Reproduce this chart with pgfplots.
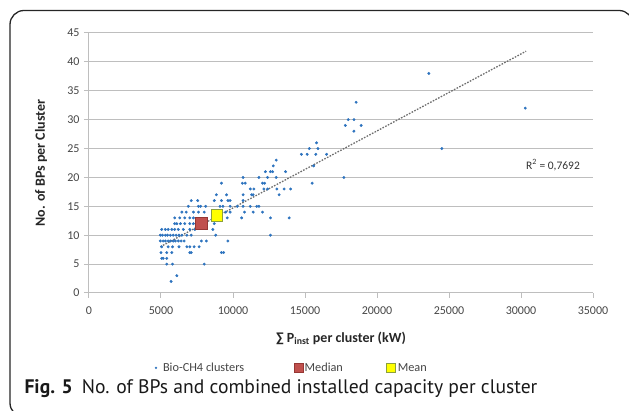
\documentclass[border=0pt]{standalone}
\usepackage{fontspec}
\setmainfont{Carlito}
\newfontfamily\capfont{PT Sans}
\usepackage{pgfplots}
\pgfplotsset{compat=1.18}
\definecolor{ptblue}{RGB}{45,115,190}
\definecolor{medred}{RGB}{192,80,77}
\definecolor{medredb}{RGB}{150,55,52}
\definecolor{meanyel}{RGB}{255,255,0}
\definecolor{meanbor}{RGB}{140,160,60}
\definecolor{gridgray}{RGB}{190,190,190}
\definecolor{txtgray}{RGB}{70,70,70}
\definecolor{trendgray}{RGB}{110,110,110}
\begin{document}
\begin{tikzpicture}[x=1pt,y=1pt]
\begin{axis}[
  scale only axis,
  width=504pt, height=260pt,
  xmin=0, xmax=35000, ymin=0, ymax=45,
  xtick={0,5000,...,35000}, ytick={0,5,...,45},
  scaled x ticks=false,
  /pgf/number format/1000 sep={},
  /pgf/number format/assume math mode=true,
  ymajorgrids, grid style={gridgray, line width=1pt},
  axis x line*=bottom, axis y line*=left,
  axis line style={gridgray, line width=1pt},
  tick style={gridgray, line width=1pt}, tick align=outside,
  major tick length=5pt,
  ticklabel style={font=\fontsize{12}{14}\selectfont, text=txtgray},
  xticklabel style={yshift=-5pt},
  yticklabel style={xshift=-1pt},
  xlabel={\textbf{∑ P\textsubscript{inst} per cluster (kW)}},
  ylabel={\textbf{No. of BPs per Cluster}},
  label style={font=\fontsize{14}{16}\selectfont, text=black!85},
  xlabel style={at={(axis description cs:0.5,-0.173)}, anchor=center},
  ylabel style={at={(axis description cs:-0.095,0.5)}, anchor=center},
  legend columns=3,
  legend cell align=left,
  legend style={at={(axis description cs:0.130,-0.288)}, anchor=west, draw=none,
    inner sep=0pt, outer sep=0pt,
    font=\fontsize{12.3}{14}\selectfont, text=txtgray,
    nodes={inner sep=1.5pt},
    /tikz/column 2/.style={column sep=48pt},
    /tikz/column 4/.style={column sep=42pt}},
  clip=false,
]
\coordinate (O) at (axis cs:0,0);
\addplot[only marks, mark=*, mark size=1.25pt, color=ptblue,
  legend image code/.code={\path[draw=none, fill=none] (0pt,-1pt) rectangle (7pt,1pt); \fill[ptblue, draw=none] (1.5pt,0pt) circle (1.3pt);}]
  coordinates {
  (5700,2) (6100,3)
  (5400,5) (5800,5) (8000,5)
  (5050,6) (5150,6) (5400,6)
  (5000,7) (5400,7) (5750,7) (7000,7) (7100,7) (9200,7) (9350,7)
  (5050,8) (5500,8) (5800,8) (6250,8) (6800,8) (7000,8) (7300,8) (7650,8)
  (4950,9) (5150,9) (5300,9) (5500,9) (5650,9) (5850,9) (6000,9) (6200,9) (6400,9) (6600,9) (7800,9) (8150,9) (9650,9)
  (4950,10) (5100,10) (5300,10) (5450,10) (5650,10) (5850,10) (6050,10) (6250,10) (6450,10) (6800,10) (7100,10) (8800,10) (12600,10)
  (5050,11) (5300,11) (5500,11) (5750,11) (5950,11) (6200,11) (6550,11) (7000,11) (7350,11) (8600,11)
  (5950,12) (6100,12) (6350,12) (6650,12) (7000,12) (7250,12) (8700,12)
  (5950,13) (6300,13) (6650,13) (7000,13) (7250,13) (8750,13) (9600,13) (10600,13) (12600,13) (13900,13)
  (6450,14) (6750,14) (7250,14) (7600,14) (8000,14) (9150,14) (9500,14) (9800,14) (10800,14) (11400,14) (12050,14)
  (6900,15) (7600,15) (7750,15) (8100,15) (9100,15) (9300,15) (9800,15) (10300,15) (10700,15) (11200,15) (11650,15) (11800,15)
  (7100,16) (7550,16) (8700,16) (9200,16) (9650,16) (9800,16) (10700,16)
  (8850,17) (9550,17) (10700,17) (11300,17) (11400,17) (13200,17)
  (11200,18) (11450,18) (12150,18) (12400,18) (13050,18) (13550,18) (14000,18)
  (9200,19) (10650,19) (10850,19) (12050,19) (12200,19) (15500,19)
  (10700,20) (11800,20) (12400,20) (13000,20) (17700,20)
  (12250,21) (12600,21) (12750,21) (13650,21)
  (12800,22) (15600,22)
  (13000,23)
  (14750,24) (15150,24) (15750,24) (16500,24)
  (15300,25) (15900,25) (24500,25)
  (15800,26)
  (18400,28)
  (17800,29) (18900,29)
  (18000,30) (18400,30)
  (30300,32)
  (18550,33)
  (23600,38)
  };
\addlegendentry{Bio-CH4 clusters}
\addplot[forget plot, trendgray, line width=1.3pt, dash pattern=on 1.6pt off 1.4pt]
  coordinates {(4950,8.0) (30350,41.84)};
\addplot[only marks, mark=square*, mark size=6pt, mark options={fill=medred, draw=medredb, line width=0.6pt},
  legend image code/.code={\filldraw[fill=medred, draw=medredb, line width=0.5pt] (0pt,-4.5pt) rectangle (9pt,4.5pt);}]
  coordinates {(7800,12)};
\addlegendentry{Median}
\addplot[only marks, mark=square*, mark size=5.8pt, mark options={fill=meanyel, draw=meanbor, line width=1pt},
  legend image code/.code={\filldraw[fill=meanyel, draw=meanbor, line width=0.8pt] (0pt,-4.5pt) rectangle (9pt,4.5pt);}]
  coordinates {(8900,13.4)};
\addlegendentry{Mean}
\node[font=\fontsize{11.5}{13}\selectfont, text=black!80] at (axis cs:32222,22.15) {R\textsuperscript{2} = 0,7692};
\end{axis}
\path (O) ++(-89,-118) coordinate (P);
\begin{scope}[shift={(P)}]
\draw[line width=1.3pt, black!85, rounded corners=14pt] (633,370) -- (633,400.5) -- (10,400.5) -- (10,-6) -- (80,-6);
\node[anchor=base west, font=\capfont\fontsize{19.6}{23}\selectfont, text=black!90] at (21,17.5)
  {\textbf{Fig. 5}\hspace{9pt}No. of BPs and combined installed capacity per cluster};
\end{scope}
\pgfresetboundingbox
\path[use as bounding box] (P) rectangle ++(629,411);
\end{tikzpicture}
\end{document}
